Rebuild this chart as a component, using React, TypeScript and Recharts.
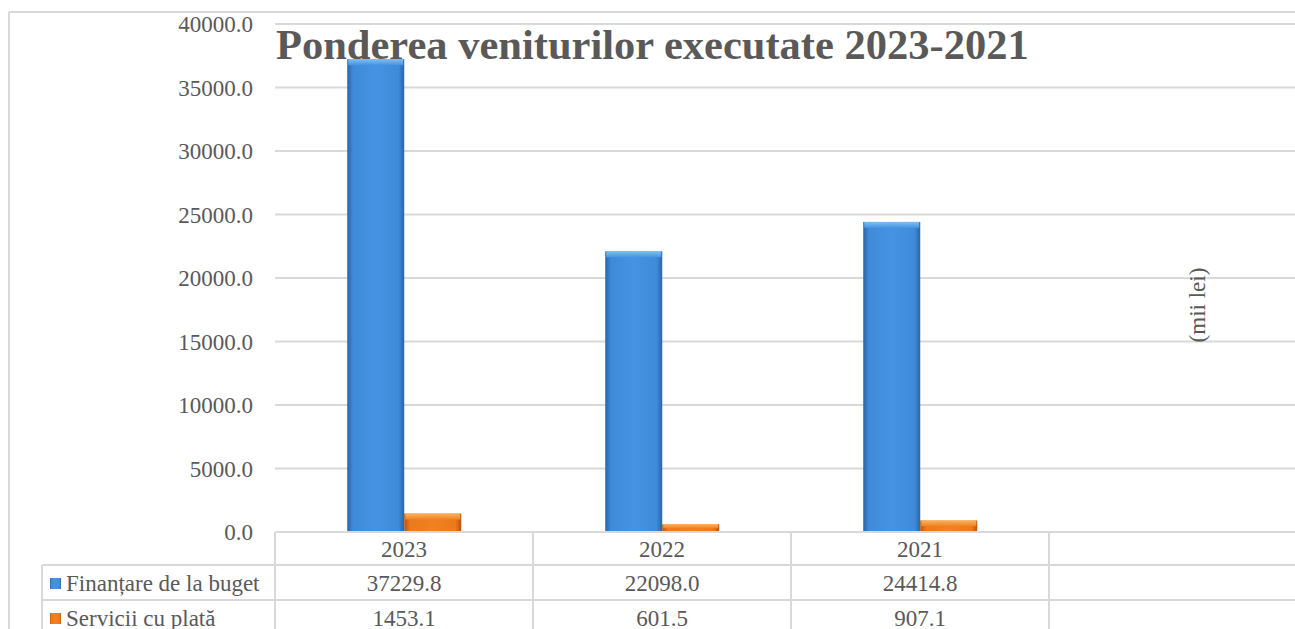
import React from 'react';
import { BarChart, Bar, XAxis, YAxis, CartesianGrid } from 'recharts';

const years = ['2023', '2022', '2021', ''];
const finantare = [37229.8, 22098.0, 24414.8, null];
const servicii = [1453.1, 601.5, 907.1, null];
const yTicks = [0, 5000, 10000, 15000, 20000, 25000, 30000, 35000, 40000];

const seriesNames = ['Finanțare de la buget', 'Servicii cu plată'];

const data = years.map((year, i) => ({
  year,
  finantare: finantare[i],
  servicii: servicii[i],
}));

const FONT = '"Liberation Serif", "Times New Roman", serif';
const TEXT = '#595959';
const LINE = '#d9d9d9';

const CHART_W = 1310;
const CHART_H = 629;
const PLOT_LEFT = 275;
const PLOT_RIGHT = 1307;
const BAND = (PLOT_RIGHT - PLOT_LEFT) / years.length;
const ROW1 = 33;
const ROW2 = 68;
const TABLE_LEFT = 42;

const fmt = (v: number | null) => (v == null ? '' : v.toFixed(1));

// bar with darker side edges and a light top bevel, like the office 3d style
const BevelBar = (props: any) => {
  const { x, y, width, height, gid } = props;
  if (!height || height <= 0) return null;
  const bevel = Math.min(6, height / 2);
  return (
    <g>
      <rect x={x} y={y} width={width} height={height} fill={`url(#${gid}-h)`} />
      <rect x={x + 1} y={y} width={width - 2} height={bevel} fill={`url(#${gid}-v)`} />
    </g>
  );
};

// each x tick draws its own column of the data table
const TableTick = (props: any) => {
  const { x, y, index, payload } = props;
  const left = x - BAND / 2;
  const right = x + BAND / 2;
  const cells = [finantare[index], servicii[index]];
  return (
    <g>
      <line x1={left} y1={y} x2={left} y2={CHART_H} stroke={LINE} strokeWidth={2} />
      <line x1={left} y1={y + ROW1} x2={right} y2={y + ROW1} stroke={LINE} strokeWidth={2} />
      <line x1={left} y1={y + ROW2} x2={right} y2={y + ROW2} stroke={LINE} strokeWidth={2} />
      <text x={x} y={y + 25} textAnchor="middle" fontFamily={FONT} fontSize={23} fill={TEXT}>
        {payload.value}
      </text>
      {cells.map((v, i) => (
        <text key={i} x={x} y={y + 59 + i * 35} textAnchor="middle" fontFamily={FONT} fontSize={23} fill={TEXT}>
          {fmt(v)}
        </text>
      ))}
    </g>
  );
};

export default function App() {
  return (
    <div style={{ position: 'absolute', left: 0, top: 0, width: 1295, height: 629, overflow: 'hidden', background: '#fff' }}>
      <BarChart
        width={CHART_W}
        height={CHART_H}
        data={data}
        margin={{ top: 24, right: CHART_W - PLOT_RIGHT, bottom: 0, left: 0 }}
        barCategoryGap="28%"
        barGap={0}
      >
        <defs>
          <linearGradient id="blue-h" x1="0" y1="0" x2="1" y2="0">
            <stop offset="0%" stopColor="#2a64a6" />
            <stop offset="10%" stopColor="#3f8bd9" />
            <stop offset="50%" stopColor="#4593e2" />
            <stop offset="90%" stopColor="#3f8bd9" />
            <stop offset="100%" stopColor="#2a64a6" />
          </linearGradient>
          <linearGradient id="blue-v" x1="0" y1="0" x2="0" y2="1">
            <stop offset="0%" stopColor="#7cc0f7" />
            <stop offset="100%" stopColor="#4593e2" />
          </linearGradient>
          <linearGradient id="orange-h" x1="0" y1="0" x2="1" y2="0">
            <stop offset="0%" stopColor="#b9530f" />
            <stop offset="10%" stopColor="#eb7a1a" />
            <stop offset="50%" stopColor="#f08220" />
            <stop offset="90%" stopColor="#eb7a1a" />
            <stop offset="100%" stopColor="#b9530f" />
          </linearGradient>
          <linearGradient id="orange-v" x1="0" y1="0" x2="0" y2="1">
            <stop offset="0%" stopColor="#fbb060" />
            <stop offset="100%" stopColor="#f08220" />
          </linearGradient>
        </defs>
        <CartesianGrid horizontal vertical={false} stroke={LINE} strokeWidth={2} />
        <YAxis
          width={PLOT_LEFT}
          domain={[0, 40000]}
          ticks={yTicks}
          tickFormatter={(v: number) => v.toFixed(1)}
          axisLine={false}
          tickLine={false}
          tickSize={0}
          tickMargin={22}
          tick={{ fontFamily: FONT, fontSize: 23, fill: TEXT }}
        />
        <XAxis
          dataKey="year"
          height={CHART_H - 532}
          axisLine={{ stroke: LINE, strokeWidth: 2 }}
          tickLine={false}
          tickSize={0}
          tickMargin={0}
          interval={0}
          tick={<TableTick />}
        />
        <Bar
          dataKey="finantare"
          name={seriesNames[0]}
          isAnimationActive={false}
          shape={(p: any) => <BevelBar {...p} gid="blue" />}
        />
        <Bar
          dataKey="servicii"
          name={seriesNames[1]}
          isAnimationActive={false}
          shape={(p: any) => <BevelBar {...p} gid="orange" />}
        />
      </BarChart>
      <svg width={1295} height={629} style={{ position: 'absolute', left: 0, top: 0, pointerEvents: 'none' }}>
        <line x1={9} y1={12} x2={1295} y2={12} stroke={LINE} strokeWidth={2} />
        <line x1={9} y1={12} x2={9} y2={629} stroke={LINE} strokeWidth={2} />
        <text x={276} y={59} fontFamily={FONT} fontWeight="bold" fontSize={42.5} fill={TEXT}>
          Ponderea veniturilor executate 2023-2021
        </text>
        <text
          x={1197}
          y={305}
          transform="rotate(-90 1197 305)"
          textAnchor="middle"
          dominantBaseline="central"
          fontFamily={FONT}
          fontSize={23}
          fill={TEXT}
        >
          (mii lei)
        </text>
        <line x1={TABLE_LEFT} y1={532 + ROW1} x2={PLOT_LEFT} y2={532 + ROW1} stroke={LINE} strokeWidth={2} />
        <line x1={TABLE_LEFT} y1={532 + ROW2} x2={PLOT_LEFT} y2={532 + ROW2} stroke={LINE} strokeWidth={2} />
        <line x1={TABLE_LEFT} y1={532 + ROW1} x2={TABLE_LEFT} y2={629} stroke={LINE} strokeWidth={2} />
        {seriesNames.map((name, i) => (
          <g key={name}>
            <rect x={50} y={578 + i * 35} width={11} height={11} fill={i === 0 ? 'url(#blue-h)' : 'url(#orange-h)'} />
            <text x={66} y={591 + i * 35} fontFamily={FONT} fontSize={23} fill={TEXT}>
              {name}
            </text>
          </g>
        ))}
      </svg>
    </div>
  );
}
